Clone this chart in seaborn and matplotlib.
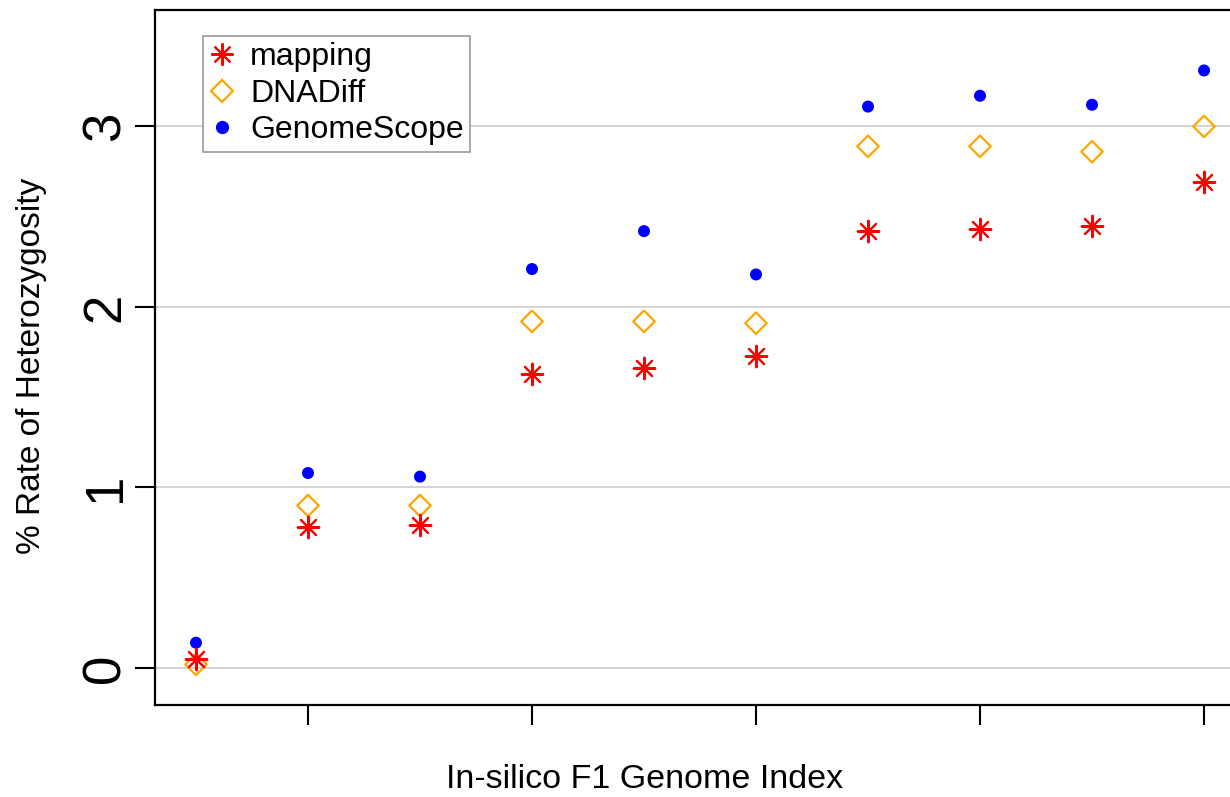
import matplotlib
matplotlib.use("Agg")
import matplotlib.pyplot as plt
from matplotlib.lines import Line2D
import seaborn as sns
import pandas as pd

genome_index = [1, 2, 3, 4, 5, 6, 7, 8, 9, 10]
mapping = [0.05, 0.78, 0.79, 1.63, 1.66, 1.73, 2.42, 2.43, 2.45, 2.69]
dnadiff = [0.02, 0.90, 0.90, 1.92, 1.92, 1.91, 2.89, 2.89, 2.86, 3.00]
genomescope = [0.14, 1.08, 1.06, 2.21, 2.42, 2.18, 3.11, 3.17, 3.12, 3.31]
series_names = ["mapping", "DNADiff", "GenomeScope"]
x_ticks = [2, 4, 6, 8, 10]
y_ticks = [0, 1, 2, 3]

sns.set_style("white")
plt.rcParams["font.family"] = ["Liberation Sans", "DejaVu Sans"]
plt.rcParams["text.color"] = "black"
plt.rcParams["axes.labelcolor"] = "black"
plt.rcParams["xtick.color"] = "black"
plt.rcParams["ytick.color"] = "black"

W, H = 1230, 797
fig = plt.figure(figsize=(W / 100, H / 100), dpi=100)
left, right, top, bottom = 155, 1244, 10, 705
ax = fig.add_axes([left / W, (H - bottom) / H, (right - left) / W, (bottom - top) / H])

df = pd.DataFrame({"idx": genome_index, "mapping": mapping,
                   "DNADiff": dnadiff, "GenomeScope": genomescope})

ast = (8, 2, 0)
sns.scatterplot(data=df, x="idx", y="GenomeScope", ax=ax, marker="o", s=75,
                color="#0000FF", edgecolor="none", zorder=3)
sns.scatterplot(data=df, x="idx", y="DNADiff", ax=ax, marker="D", s=120,
                facecolors="none", edgecolor="#FFA500", linewidth=1.6, zorder=3)
sns.scatterplot(data=df, x="idx", y="mapping", ax=ax, marker=ast, s=240,
                color="#FF0000", linewidth=1.5, zorder=4)

ax.set_xlim(0.634, 10.357)
ax.set_ylim(-0.205, 3.645)
ax.set_xticks(x_ticks)
ax.set_xticklabels([])
ax.set_yticks(y_ticks)
ax.set_yticklabels([str(v) for v in y_ticks], rotation=90, va="center", fontsize=38)
ax.tick_params(axis="both", which="major", direction="out", length=14.5, width=1.5,
               color="black", labelcolor="black", pad=3, left=True, bottom=True)
ax.yaxis.grid(True, color="#D3D3D3", linewidth=1.4)
ax.xaxis.grid(False)
ax.set_axisbelow(True)
for sp in ax.spines.values():
    sp.set_visible(True)
    sp.set_color("black")
    sp.set_linewidth(1.6)

ax.set_xlabel("In-silico F1 Genome Index", fontsize=24.5, color="black")
ax.xaxis.set_label_coords((645 - left) / (right - left), (bottom - 764) / (bottom - top))
ax.set_ylabel("% Rate of Heterozygosity", fontsize=24, color="black")
ax.yaxis.set_label_coords((47 - left) / (right - left), (bottom - 366) / (bottom - top))

handles = [
    Line2D([], [], linestyle="none", marker=ast, markersize=16, color="#FF0000", markeredgewidth=1.5),
    Line2D([], [], linestyle="none", marker="D", markersize=11, markerfacecolor="none",
           markeredgecolor="#FFA500", markeredgewidth=1.6),
    Line2D([], [], linestyle="none", marker="o", markersize=8.5, color="#0000FF"),
]
leg = ax.legend(handles, series_names, loc="upper left",
                bbox_to_anchor=((203 - left) / (right - left), (bottom - 36) / (bottom - top)),
                fontsize=23, frameon=True, fancybox=False, framealpha=1,
                borderpad=0.2, labelspacing=0.2, handletextpad=0.5, handlelength=0.78,
                borderaxespad=0)
leg.get_frame().set_edgecolor("#999999")
leg.get_frame().set_linewidth(1.2)
for t in leg.get_texts():
    t.set_color("black")

fig.savefig("out.png", dpi=100)
